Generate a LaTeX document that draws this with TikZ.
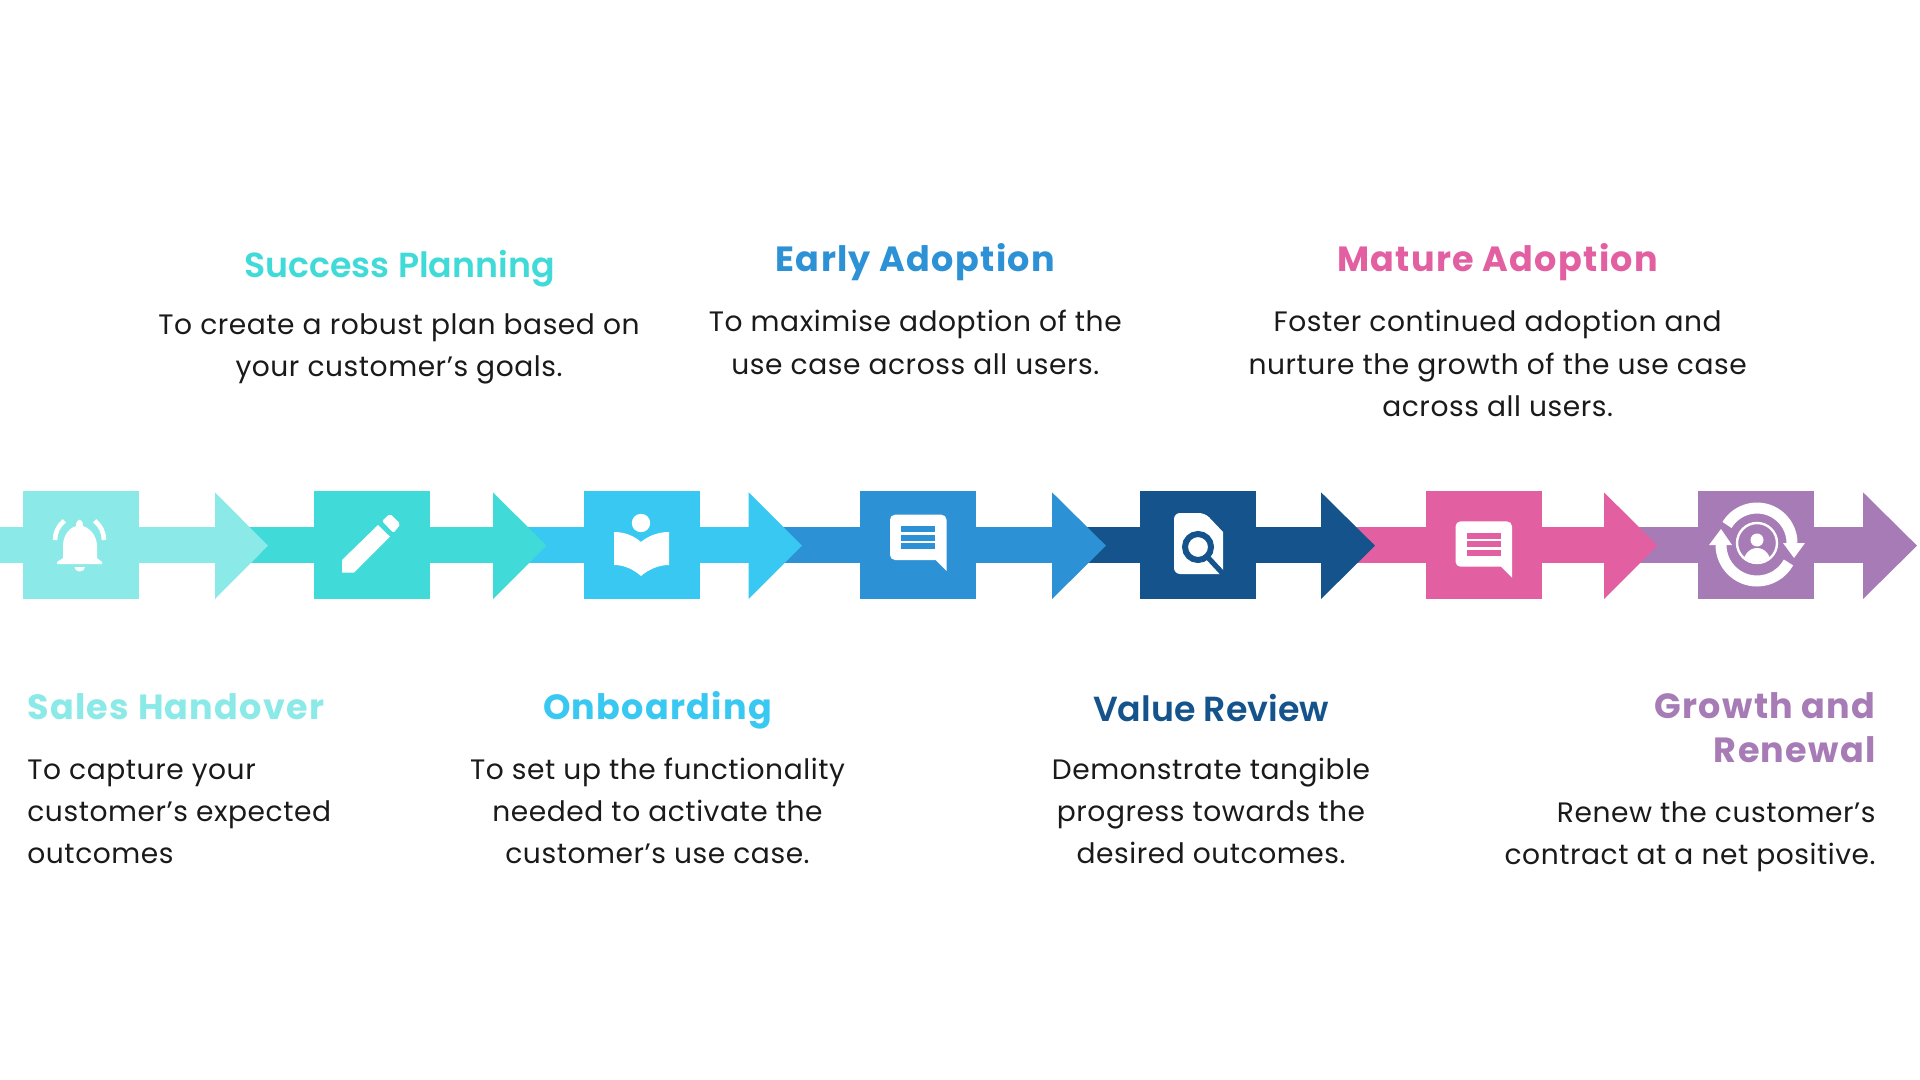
\documentclass[tikz,border=0pt]{standalone}
\usepackage{fontspec}
\setmainfont{Poppins}
\newfontfamily\titlefont[LetterSpace=3.7]{Poppins Bold}
\newfontfamily\titlesemi{Poppins SemiBold}
\newfontfamily\bodyfont[LetterSpace=2]{Poppins}
\definecolor{cA}{HTML}{8BEAE7}
\definecolor{cB}{HTML}{40DBD8}
\definecolor{cC}{HTML}{38C8F1}
\definecolor{cD}{HTML}{2D91D5}
\definecolor{cE}{HTML}{14538B}
\definecolor{cF}{HTML}{E260A1}
\definecolor{cG}{HTML}{A67BB6}
\definecolor{ink}{HTML}{1A1A1A}
\tikzset{
  sq/.style={minimum width=57.8pt,minimum height=54pt,inner sep=0pt,outer sep=0pt},
  ttl/.style={anchor=base,inner sep=0pt,font=\titlefont\fontsize{17.5}{22}\selectfont},
  ttls/.style={anchor=base,inner sep=0pt,font=\titlesemi\fontsize{17.4}{22}\selectfont},
  bdy/.style={anchor=base,inner sep=0pt,text=ink,font=\bodyfont\fontsize{14.05}{21}\selectfont},
}
% segment: id, colour, bar start, square centre x, arrow base x, arrow tip x
\newcommand{\seg}[6]{%
  \coordinate (b#1) at (#3,-545.2);
  \coordinate (h#1) at (#5,-545.2);
  \coordinate (t#1) at (#6,-545.7);
  \node[sq,fill=#2] (s#1) at (#4,-545) {};
  \draw[#2,line width=18.2pt] (b#1) -- (h#1);
  \fill[#2] (#5,-492.3) -- (t#1) -- (#5,-599) -- cycle;
}
\newcommand{\chat}[2]{%
\begin{scope}[shift={(#1,#2)}]
  \fill[white,rounded corners=2.5pt] (890,-514.7) -- (946.5,-514.7) -- (946.5,-530) [sharp corners] -- (946.5,-571) -- (935.5,-560) [rounded corners=2.5pt] -- (890,-560) -- cycle;
\end{scope}}
\begin{document}
\begin{tikzpicture}[x=0.5pt,y=0.5pt]
\useasboundingbox (0,0) rectangle (1920,-1080);
\fill[white] (0,0) rectangle (1920,-1080);
% chain, last segment first so that each head lies on the next bar
\seg{7}{cG}{1630}{1755.75}{1863}{1917}
\seg{6}{cF}{1350}{1483.8}{1604}{1657.5}
\seg{5}{cE}{1080}{1198.2}{1321}{1375}
\seg{4}{cD}{775}{917.8}{1052}{1106}
\seg{3}{cC}{520}{641.8}{748.6}{802}
\seg{2}{cB}{240}{371.8}{493}{546.5}
\seg{1}{cA}{0}{81}{215}{268}
% bell
\fill[white] (76,-526) .. controls (76,-517.5) and (83,-517.5) .. (83,-526)
  .. controls (92,-529) and (97,-538) .. (97,-546) -- (97,-558) -- (102,-562) -- (102,-564) -- (57,-564) -- (57,-562) -- (63,-558) -- (63,-546)
  .. controls (63,-538) and (67,-529) .. (76,-526) -- cycle;
\fill[white] (74.5,-567) -- (85,-567) arc (0:-180:5.25 and 4.5) -- cycle;
\draw[white,line width=2.3pt] (55,-540) arc (180:128:24.5);
\draw[white,line width=2.3pt] (104,-540) arc (0:52:24.5);
% pencil
\fill[white] (342,-560) -- (378,-525) -- (390,-536.7) -- (354,-572.7) -- (342,-572.7) -- cycle;
\fill[white,rounded corners=1pt] (382,-521) -- (390,-513.7) -- (400.5,-524) -- (393.5,-533) -- cycle;
% book
\fill[white] (641,-523) circle (9.2);
\fill[white] (614,-532) .. controls (625,-532) and (634,-536) .. (641,-542) .. controls (648,-536) and (658,-532) .. (669,-532)
  -- (669,-565) .. controls (658,-565) and (648,-570) .. (641,-576) .. controls (634,-570) and (625,-565) .. (614,-565) -- cycle;
% chat 1
\chat{0}{0}
\foreach \yy in {526,534.6,543.2} \fill[cD] (901,-\yy) rectangle (935,-\yy-6);
% document
\fill[white,rounded corners=3pt] (1174,-513) -- (1205,-513) [sharp corners] -- (1223,-532) -- (1223,-574) [rounded corners=3pt] -- (1174,-574) -- cycle;
\draw[cE,line width=3pt] (1198,-547) circle (13);
\draw[cE,line width=2.6pt] (1207,-556.5) -- (1226,-577);
% chat 2
\chat{565.5}{-6.7}
\foreach \yy in {532.7,541.3,549.9} \fill[cF] (1466.5,-\yy) rectangle (1500.5,-\yy-6);
% cycle
\draw[white,line width=5.5pt] (1727,-525) arc (149:0:35);
\fill[white] (1783,-543) -- (1805,-543) -- (1794,-558) -- cycle;
\draw[white,line width=5.5pt] (1721,-545) arc (180:331:36);
\fill[white] (1709,-545) -- (1732,-545) -- (1721,-529) -- cycle;
\draw[white,line width=1.2pt] (1757,-543) circle (20);
\begin{scope}
  \clip (1757,-543) circle (19);
  \fill[white] (1757,-564) ellipse (14 and 16);
\end{scope}
\fill[white] (1757,-540) circle (6.5);
% titles
\node[ttls,text=cB] (tB) at (399.5,-277.5) {Success Planning};
\node[ttl,text=cD] (tD) at (915.3,-271.8) {Early Adoption};
\node[ttl,text=cF] (tF) at (1497.6,-271.8) {Mature Adoption};
\node[ttl,text=cA,anchor=base west] (tA) at (27,-719.2) {Sales Handover};
\node[ttl,text=cC] (tC) at (657.5,-719.2) {Onboarding};
\node[ttls,text=cE] (tE) at (1211,-721.2) {Value Review};
\node[ttl,text=cG,anchor=base east] (tG1) at (1876,-718.9) {Growth and};
\node[ttl,text=cG,anchor=base east] (tG2) at (1876,-762.9) {Renewal};
% body lines
\node[bdy] (pB1) at (399,-334.4) {To create a robust plan based on};
\node[bdy] (pB2) at (399,-376.6) {your customer’s goals.};
\node[bdy] (pD1) at (915.3,-332) {To maximise adoption of the};
\node[bdy] (pD2) at (915.3,-374) {use case across all users.};
\node[bdy] (pF1) at (1497.6,-332) {Foster continued adoption and};
\node[bdy] (pF2) at (1497.6,-374) {nurture the growth of the use case};
\node[bdy] (pF3) at (1497.6,-416) {across all users.};
\node[bdy,anchor=base west] (pA1) at (27,-779) {To capture your};
\node[bdy,anchor=base west] (pA2) at (27,-821) {customer’s expected};
\node[bdy,anchor=base west] (pA3) at (27,-863) {outcomes};
\node[bdy] (pC1) at (657.5,-779) {To set up the functionality};
\node[bdy] (pC2) at (657.5,-821) {needed to activate the};
\node[bdy] (pC3) at (657.5,-863) {customer’s use case.};
\node[bdy] (pE1) at (1211,-779) {Demonstrate tangible};
\node[bdy] (pE2) at (1211,-821) {progress towards the};
\node[bdy] (pE3) at (1211,-863) {desired outcomes.};
\node[bdy,anchor=base east] (pG1) at (1876,-822.5) {Renew the customer’s};
\node[bdy,anchor=base east] (pG2) at (1876,-864.5) {contract at a net positive.};
\end{tikzpicture}
\end{document}
